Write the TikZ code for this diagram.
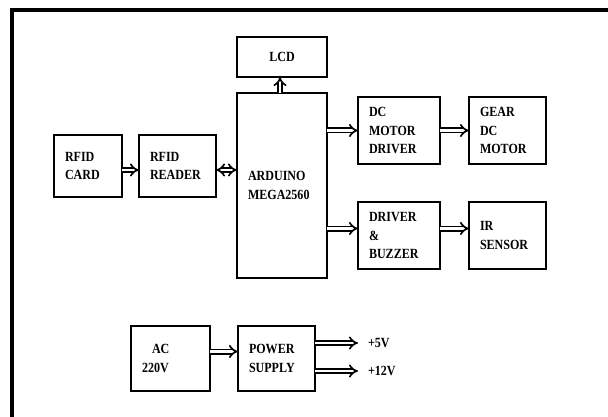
\documentclass[tikz,border=0pt]{standalone}
\usepackage{fontspec}
\setmainfont{Liberation Serif}[FakeStretch=0.86]
\usetikzlibrary{positioning,arrows.meta}

\begin{document}
\begin{tikzpicture}[x=1pt, y=-1pt,
  node distance=17pt and 29pt,
  box/.style={draw, line width=2.2pt, outer sep=0pt, align=left, inner xsep=11pt, inner ysep=0pt, font=\bfseries\fontsize{14}{18.5}\selectfont},
  arr/.style={double, double distance=2.6pt, line width=1.7pt, -{Implies}},
  biarr/.style={arr, {Implies}-{Implies}},
  volt/.style={font=\bfseries\fontsize{14}{18.5}\selectfont, anchor=west, inner xsep=10pt, outer sep=0pt}]
  \useasboundingbox (0,0) rectangle (608,417);
  \draw[line width=3.5pt] (12,417) -- (12,10) -- (608,10);
  \node[box, anchor=north west, text width=68pt, minimum height=185pt] (mcu) at (237,93) {ARDUINO\\MEGA2560};
  \node[box, above=16pt of mcu, align=center, text width=68pt, minimum height=40pt] (lcd) {LCD};
  \node[box, anchor=north west, text width=46pt, minimum height=62pt] (card) at (54,135) {RFID\\CARD};
  \node[box, right=17pt of card, text width=55pt, minimum height=62pt] (reader) {RFID\\READER};
  \node[box, anchor=north west, text width=60pt, minimum height=67pt] (mdrv) at (358,97) {DC\\MOTOR\\DRIVER};
  \node[box, right=of mdrv, text width=55pt, minimum height=67pt] (gear) {GEAR\\DC\\MOTOR};
  \node[box, below=38pt of mdrv, text width=60pt, minimum height=67pt] (buzz) {DRIVER\\\&\\BUZZER};
  \node[box, right=of buzz, text width=55pt, minimum height=67pt] (ir) {IR\\SENSOR};
  \node[box, anchor=north west, text width=57pt, minimum height=65pt] (ac) at (131,326) {\hspace*{10pt}AC\\220V};
  \node[box, right=28pt of ac, text width=55pt, minimum height=65pt] (psu) {POWER\\SUPPLY};
  \node[volt] (v5) at (358,343) {+5V};
  \node[volt] (v12) at (358,371) {+12V};
  \draw[arr] ([yshift=-4pt]card.east) -- ([yshift=-4pt]reader.west);
  \draw[biarr] ([yshift=-4pt]reader.east) -- ([yshift=-4pt]reader.east -| mcu.west);
  \draw[arr] ([xshift=-2pt]mcu.north) -- ([xshift=-2pt]lcd.south);
  \draw[arr] (mcu.east |- mdrv.west) -- (mdrv.west); \draw[arr] (mdrv) -- (gear);
  \draw[arr] ([yshift=7pt]buzz.west -| mcu.east) -- ([yshift=7pt]buzz.west); \draw[arr] ([yshift=7pt]buzz.east) -- ([yshift=7pt]ir.west);
  \draw[arr] ([yshift=7pt]ac.east) -- ([yshift=7pt]psu.west);
  \draw[arr] (v5.west -| psu.east) -- (v5.west); \draw[arr] (v12.west -| psu.east) -- (v12.west);
\end{tikzpicture}
\end{document}
